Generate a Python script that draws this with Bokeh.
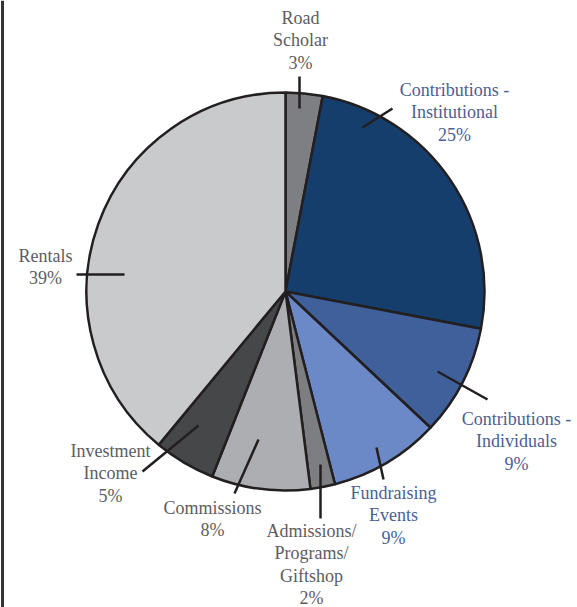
import math
from bokeh.plotting import figure
from bokeh.models import Range1d, ColumnDataSource
from bokeh.core.properties import value
from bokeh.embed import file_html
from bokeh.resources import INLINE

# ---- data ----
categories = ["Road\nScholar", "Contributions -\nInstitutional", "Contributions -\nIndividuals",
              "Fundraising\nEvents", "Admissions/\nPrograms/\nGiftshop", "Commissions",
              "Investment\nIncome", "Rentals"]
shares = [3, 25, 9, 9, 2, 8, 5, 39]
pct_labels = ["3%", "25%", "9%", "9%", "2%", "8%", "5%", "39%"]

# ---- styles ----
slice_colors = ["#7e7f82", "#153e6d", "#3f609b", "#6c89c7", "#7d7e81", "#adaeb1", "#464749", "#c9cacc"]
text_colors = ["#5d5d5f", "#4b5f92", "#4b5f92", "#4b5f92", "#5d5d5f", "#5d5d5f", "#5d5d5f", "#5d5d5f"]
# label anchor (center of first line), relative to pie centre, in px
label_pos = [(15, 274), (169, 202), (231, -127), (108, -201), (26, -239), (-73, -216), (-175, -159), (-240, 36)]
# leader lines (inner end, outer end), relative to pie centre, in px
leaders = [((14, 183), (14, 215)), ((77, 164), (107, 183)), ((152, -80), (202, -108)),
           ((91, -156), (98, -188)), ((35, -173), (35, -227)), ((-27, -148), (-51, -202)),
           ((-87, -134), (-143, -180)), ((-161, 17), (-209, 17))]
R = 199
LINE = "#231f20"
FONT = "Liberation Serif"
FS = 18
LH = 22.5

W, H = 577, 607
cx_page, cy_page = 285, 291
p = figure(width=W, height=H, output_backend="svg", toolbar_location=None,
           x_range=Range1d(-cx_page, W - cx_page),
           y_range=Range1d(cy_page - H, cy_page),
           min_border=0, outline_line_color=None, background_fill_color="white")
p.axis.visible = False
p.grid.visible = False

total = sum(shares)
starts, ends = [], []
cum = 0.0
for s in shares:
    a0 = cum / total
    cum += s
    a1 = cum / total
    # clockwise from 12 o'clock
    starts.append(math.pi / 2 - 2 * math.pi * a1)
    ends.append(math.pi / 2 - 2 * math.pi * a0)

src = ColumnDataSource(dict(start=starts, end=ends, color=slice_colors))
p.wedge(x=0, y=0, radius=R, start_angle="start", end_angle="end", fill_color="color",
        line_color=LINE, line_width=2.5, source=src)

# leader lines
p.segment(x0=[l[0][0] for l in leaders], y0=[l[0][1] for l in leaders],
          x1=[l[1][0] for l in leaders], y1=[l[1][1] for l in leaders],
          line_color=LINE, line_width=2.5)

# labels
tx, ty, tt, tc = [], [], [], []
for cat, pct, (lx, ly), col in zip(categories, pct_labels, label_pos, text_colors):
    lines = cat.split("\n") + [pct]
    for i, ln in enumerate(lines):
        tx.append(lx)
        ty.append(ly - i * LH)
        tt.append(ln)
        tc.append(col)
p.text(x=tx, y=ty, text=tt, text_color=tc, text_font=value(FONT), text_font_size=f"{FS}px",
       text_align="center", text_baseline="middle")

# left frame rule
xl = 2 - cx_page
p.segment(x0=[xl], y0=[cy_page], x1=[xl], y1=[cy_page - H], line_color="#333333", line_width=3)

open("out.html", "w").write(file_html(p, INLINE))
